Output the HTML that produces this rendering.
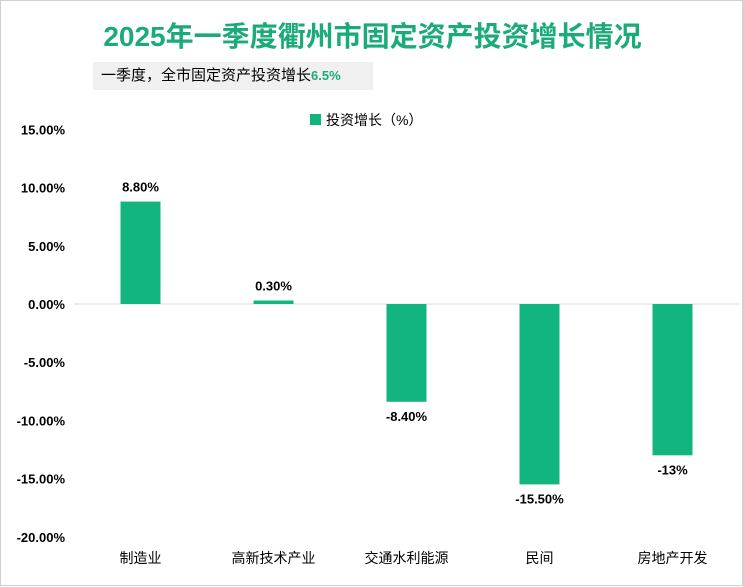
<!DOCTYPE html>
<html><head><meta charset="utf-8"><style>
body{margin:0;width:743px;height:586px;background:#fff;font-family:"Liberation Sans","Noto Sans CJK SC",sans-serif;overflow:hidden}
#wrap{position:relative;width:741px;height:584px;border:1px solid #d0d0d0}
#title{position:absolute;left:0;width:743px;top:14px;text-align:center;font-size:28px;font-weight:bold;color:#1aab79;letter-spacing:0px}
#sub{position:absolute;left:92px;top:61px;width:280px;height:28px;background:#f0f0f0;font-size:15px;line-height:28px;padding-left:8px;box-sizing:border-box;color:#000}
#sub span{color:#1aab79;font-weight:bold;font-size:13px}
</style></head><body>
<div id="wrap">
<div id="title">2025年一季度衢州市固定资产投资增长情况</div>
<div id="sub">一季度，全市固定资产投资增长<span>6.5%</span></div>
<svg id="chart" width="743" height="586" style="position:absolute;left:0;top:0">
<g id="legend">
<rect x="309" y="113" width="11" height="11" fill="#12b480"/>
<text x="325" y="124" font-size="14" fill="#000">投资增长（%）</text>
</g>
</svg>
</div>
<script>
const categories=["制造业","高新技术产业","交通水利能源","民间","房地产开发"];
const values=[8.8,0.3,-8.4,-15.5,-13];
const valueLabels=["8.80%","0.30%","-8.40%","-15.50%","-13%"];
const ticks=[15,10,5,0,-5,-10,-15,-20];
const tickLabels=["15.00%","10.00%","5.00%","0.00%","-5.00%","-10.00%","-15.00%","-20.00%"];
const svg=document.getElementById('chart');
const NS="http://www.w3.org/2000/svg";
const y=v=>303-(v*58.2/5);
const x0=73,step=133;
const xc=i=>x0+step*(i+0.5);
function mk(t,a){const e=document.createElementNS(NS,t);for(const k in a)e.setAttribute(k,a[k]);svg.appendChild(e);return e;}
ticks.forEach((t,i)=>{
 const e=mk('text',{x:64,y:y(t)+5,'text-anchor':'end','font-size':13,'font-weight':'bold',fill:'#000'});
 e.textContent=tickLabels[i];
 
 
});
const ax=mk('line',{x1:x0,x2:738,y1:y(0),y2:y(0),stroke:'#d9d9d9','stroke-width':1});


values.forEach((v,i)=>{
 const top=Math.min(y(v),y(0)),h=Math.abs(y(v)-y(0));
 const r=mk('rect',{x:xc(i)-20,y:top,width:40,height:Math.max(h,1),fill:'#12b480'});
 
 
 const ly=v>=0?y(v)-10:y(v)+19;
 const t=mk('text',{x:xc(i),y:ly,'text-anchor':'middle','font-size':13,'font-weight':'bold',fill:'#000'});
 t.textContent=valueLabels[i];
 
 
 const c=mk('text',{x:xc(i),y:562,'text-anchor':'middle','font-size':14,fill:'#000'});
 c.textContent=categories[i];
 
 
});
</script>
</body></html>
